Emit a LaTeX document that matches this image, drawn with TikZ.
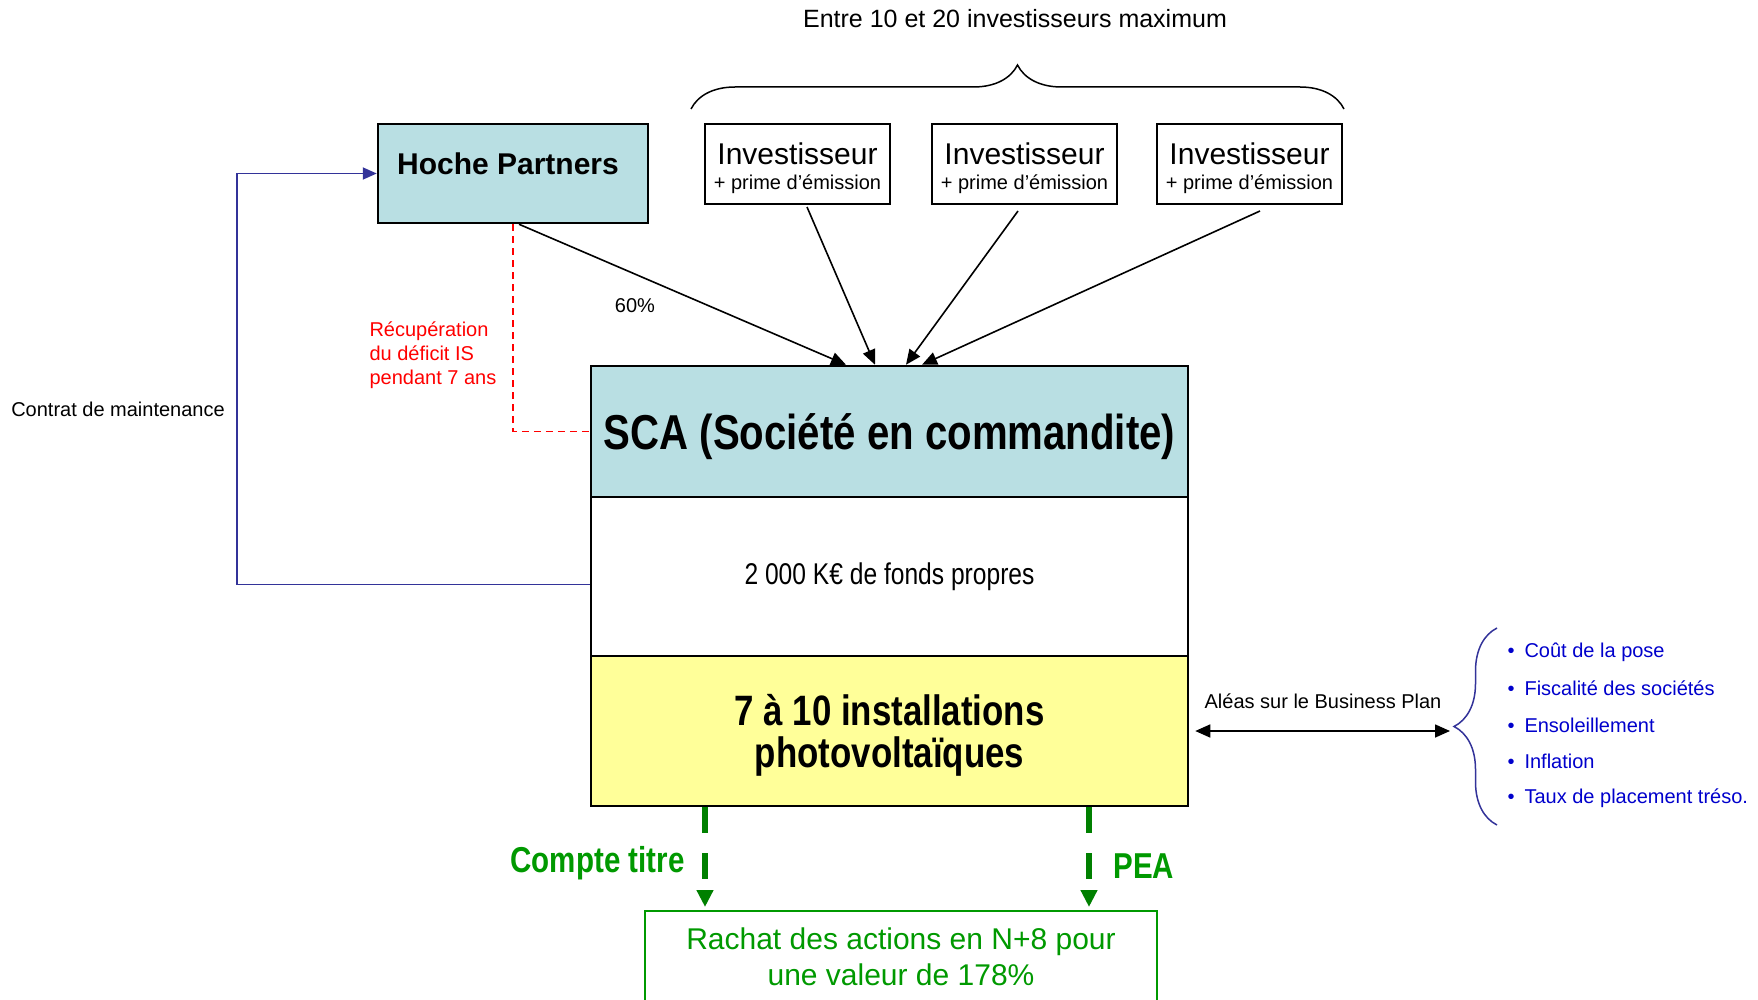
\documentclass[tikz,border=0pt]{standalone}
\usepackage{fontspec}
\setmainfont{Liberation Sans}
\newfontfamily\narrowsf[FakeStretch=0.82]{Liberation Sans}
\usetikzlibrary{arrows.meta,decorations.pathreplacing}
\definecolor{boxblue}{RGB}{185,223,227}
\definecolor{pvyellow}{RGB}{255,255,153}
\definecolor{linkblue}{RGB}{51,51,153}
\definecolor{riskblue}{RGB}{0,0,204}
\definecolor{exitgreen}{RGB}{0,153,0}
\definecolor{arrowgreen}{RGB}{0,128,0}
\newcommand{\fs}[2]{\fontsize{#1}{#2}\selectfont}

\begin{document}
\begin{tikzpicture}[x=1pt,y=-1pt,
		box/.style={draw=black,line width=2.5pt,inner sep=0pt},
		invbox/.style={box,line width=2pt,minimum width=185pt,minimum height=80pt,align=center,font=\fs{20}{25}},
		flow/.style={line width=1.6pt,-{Triangle[length=15pt,width=13pt]}},
		exit/.style={arrowgreen,line width=6pt,dash pattern=on 26pt off 20pt,shorten >=3pt,-{Triangle[length=17pt,width=16pt]}},
		note/.style={font=\fs{20}{24}}]
			%%%%% START %%%%%
			\useasboundingbox (0,0) rectangle (1758,1000);
			\clip (0,0) rectangle (1758,1000);
			
			\node[font=\fs{25}{30}] (title) at (1015,19) {Entre 10 et 20 investisseurs maximum};
			\draw[line width=1.5pt, decorate, decoration={brace, amplitude=44pt}] (691,109) -- (1344,109);
			
			\node[box, fill=boxblue, minimum width=270pt, minimum height=99pt] (hoche) at (513,173.5) {};
			\node[font=\bfseries\fs{30}{36}] (hochetxt) at (508,164) {Hoche Partners};
			
			\foreach \x [count=\i] in {797.5,1024.5,1249.5}
				\node[invbox] (inv\i) at (\x,164) {{\fs{30}{25}\rule{0pt}{31pt}Investisseur}\\+ prime d’émission};
			
			\node[box, fill=boxblue, minimum width=597pt, minimum height=131pt, text depth=0pt, font=\narrowsf\bfseries\fs{49}{56}] (sca) at (889.5,431.5) {SCA (Société en commandite)};
			\node[box, minimum width=597pt, minimum height=159pt, font=\narrowsf\fs{30}{36}] (fonds) at (889.5,576.5) {2 000 K€ de fonds propres};
			\node[box, fill=pvyellow, minimum width=597pt, minimum height=150pt, align=center, text depth=0pt, font=\narrowsf\bfseries\fs{42.5}{41.5}] (pv) at (889.5,731) {7 à 10 installations\\photovoltaïques};
			
			\draw[flow] ([xshift=6pt]hoche.south) -- ([xshift=-43.5pt]sca.north);
			\draw[flow] ([xshift=9.5pt,yshift=-2pt]inv1.south) -- ([xshift=-14.5pt]sca.north);
			\draw[flow] ([xshift=-6.5pt,yshift=-6pt]inv2.south) -- ([xshift=16.5pt]sca.north);
			\draw[flow] ([xshift=10.5pt,yshift=-6pt]inv3.south) -- ([xshift=32.5pt]sca.north);
			\node[note] (share) at (635,306) {60\%};
			
			\draw[red, line width=1.5pt, dash pattern=on 7pt off 5pt] (hoche.south) |- (sca.west);
			\node[note, red, anchor=west, align=left] (deficit) at (366,355) {Récupération\\du déficit IS\\pendant 7 ans};
			
			\draw[linkblue, line width=1.8pt, -{Triangle[length=14pt,width=12pt]}] ([yshift=-8pt]fonds.west) -- ++(-353,0) |- (hoche.west);
			\node[note] (maint) at (118,409) {Contrat de maintenance};
			
			% risques
			\coordinate (risktip) at (1450,731);
			\draw[line width=1.6pt, {Triangle[length=15pt,width=13pt]}-{Triangle[length=15pt,width=13pt]}] ([xshift=6pt]pv.east) -- (risktip);
			\node[note] (alea) at (1323,701) {Aléas sur le Business Plan};
			\draw[linkblue, line width=1.5pt, decorate, decoration={brace, amplitude=43pt}] (1497,825) -- (1497,628);
			\foreach \risk [count=\i] in {Coût de la pose,Fiscalité des sociétés,Ensoleillement,Inflation,Taux de placement tréso.}
				\node[note, riskblue, anchor=west] (risk\i) at (1504,{652+36.5*(\i-1)}) {\makebox[17pt][l]{•}\risk};
			
			% sortie
			\node[draw=exitgreen, line width=2pt, minimum width=512pt, minimum height=92pt, anchor=north, align=center, text=exitgreen, font=\fs{30}{36}] (rachat) at (901,910) {Rachat des actions en N+8 pour\\une valeur de 178\%};
			\coordinate (ctout) at ([xshift=-184.5pt]pv.south);
			\coordinate (peaout) at ([xshift=199.5pt]pv.south);
			\draw[exit] (ctout) -- (ctout |- rachat.north);
			\draw[exit] (peaout) -- (peaout |- rachat.north);
			\node[font=\narrowsf\bfseries\fs{36}{40}, text=exitgreen, anchor=east] (ctlabel) at (688,863) {Compte titre};
			\node[font=\narrowsf\bfseries\fs{36}{40}, text=exitgreen, anchor=west] (pealabel) at (1110,866) {PEA};
			%%%%% END %%%%%
\end{tikzpicture}
\end{document}
